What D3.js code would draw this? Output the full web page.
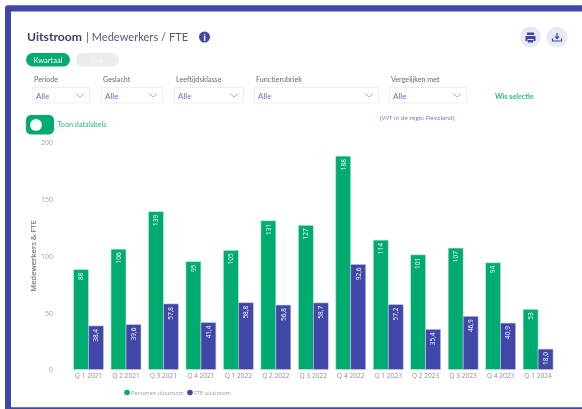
<!DOCTYPE html>
<html>
<head>
<meta charset="utf-8">
<script src="https://cdn.jsdelivr.net/npm/d3@7"></script>
<style>
  html, body { margin: 0; padding: 0; background: #fff; overflow: hidden; }
  #chart { width: 582px; height: 409px; filter: blur(0.5px); }
  text { font-family: "Open Sans", sans-serif; }
</style>
</head>
<body>
<div id="chart"></div>
<script>
const quarters = ['Q 1 2021', 'Q 2 2021', 'Q 3 2021', 'Q 4 2021', 'Q 1 2022', 'Q 2 2022', 'Q 3 2022',
  'Q 4 2022', 'Q 1 2023', 'Q 2 2023', 'Q 3 2023', 'Q 4 2023', 'Q 1 2024'];
const personen = [88, 106, 139, 95, 105, 131, 127, 188, 114, 101, 107, 94, 53];
const fte = [38.4, 39.6, 57.8, 41.4, 58.8, 56.8, 58.7, 92.6, 57.2, 35.4, 46.9, 40.9, 18.0];
const yTicks = [0, 50, 100, 150, 200];
const seriesNames = ['Personen uitstroom', 'FTE uitstroom'];
const filterLabels = ['Periode', 'Geslacht', 'Leeftijdsklasse', 'Functierubriek', 'Vergelijken met'];

const GREEN = '#00ab6f';
const BLUE = '#4047a8';

const svg = d3.select('#chart').append('svg')
  .attr('width', 582).attr('height', 409)
  .attr('role', 'img')
  .attr('aria-label', 'Uitstroom per kwartaal: personen en FTE');

// ─── Card frame ───────────────────────────────────────────────────────────
// thick on top and left, thin at the bottom, cut off on the right
svg.append('path').attr('fill', BLUE)
  .attr('d', 'M582 5.3H8q-3 0-3 3V409H582V407.3H11V11.5H582z');

// ─── Header ───────────────────────────────────────────────────────────────
const title = svg.append('text').attr('x', 27).attr('y', 41)
  .style('font-family', 'Lato, sans-serif').style('font-size', '12.2px').attr('fill', '#3c3f66');
title.append('tspan').style('font-weight', 700).text('Uitstroom');
title.append('tspan').attr('dx', 4).attr('fill', '#55587a').style('font-size', '11.1px').text('| Medewerkers / FTE');

svg.append('circle').attr('cx', 204.5).attr('cy', 37).attr('r', 5.5).attr('fill', BLUE);
svg.append('text').attr('x', 204.5).attr('y', 40.5).attr('text-anchor', 'middle')
  .attr('fill', '#fff').style('font-size', '9px').style('font-weight', 700).text('i');

// print and download buttons
svg.append('circle').attr('cx', 530.5).attr('cy', 37).attr('r', 10.5).attr('fill', '#e9e9f5');
svg.append('circle').attr('cx', 557).attr('cy', 37).attr('r', 10.5).attr('fill', '#e9e9f5');
svg.append('path').attr('fill', BLUE)
  .attr('d', 'M527 32.5h7v2.5h-7z M525.5 36h10v5h-2v-2h-6v2h-2z M527.8 40h5.4v2.5h-5.4z');
svg.append('path').attr('fill', 'none').attr('stroke', BLUE).attr('stroke-width', 1.2)
  .attr('d', 'M552.5 38.5v2.5h9v-2.5 M557 33v5.5 M555 36.5l2 2.2l2-2.2');

// period toggle
svg.append('rect').attr('x', 26).attr('y', 53).attr('width', 44).attr('height', 13.5).attr('rx', 6.7).attr('fill', GREEN);
svg.append('text').attr('x', 48).attr('y', 62.5).attr('text-anchor', 'middle').attr('fill', '#fff')
  .style('font-family', 'Lato, sans-serif').style('font-size', '7.5px').text('Kwartaal');
svg.append('rect').attr('x', 76).attr('y', 53).attr('width', 43).attr('height', 13.5).attr('rx', 6.7).attr('fill', '#ececec');
svg.append('text').attr('x', 97).attr('y', 62.5).attr('text-anchor', 'middle').attr('fill', '#f7f7f7')
  .style('font-family', 'Lato, sans-serif').style('font-size', '7.5px').text('Jaar');

// ─── Filters ──────────────────────────────────────────────────────────────
const filterX = [32, 101, 174, 254, 389];
const filterW = [57, 61, 69, 124, 77];
const labelX = [34, 103, 176, 256, 391];

filterLabels.forEach((label, i) => {
  svg.append('text').attr('x', labelX[i]).attr('y', 82).attr('fill', '#6b6b6b')
    .style('font-family', 'Lato, sans-serif').style('font-size', '7.2px').text(label);
  svg.append('rect').attr('x', filterX[i] + 0.5).attr('y', 87.5).attr('width', filterW[i]).attr('height', 15.5)
    .attr('fill', '#fff').attr('stroke', '#efeff4');
  svg.append('text').attr('x', filterX[i] + 4).attr('y', 99).attr('fill', '#6d72c4')
    .style('font-family', 'Lato, sans-serif').style('font-size', '8px').text('Alle');
  const cx = filterX[i] + filterW[i] - 9;
  svg.append('path').attr('fill', 'none').attr('stroke', '#8f93cf').attr('stroke-width', 0.8)
    .attr('d', `M${cx - 4} 93.5l4 3.5l4-3.5`);
});

svg.append('text').attr('x', 495).attr('y', 99).attr('fill', '#2fb985')
  .style('font-family', 'Lato, sans-serif').style('font-size', '7.2px').style('font-weight', 700).text('Wis selectie');
svg.append('text').attr('x', 380).attr('y', 119.5).attr('fill', '#6d72c4')
  .style('font-size', '6.1px').text('(VVT in de regio Flevoland)');

// data label switch
svg.append('rect').attr('x', 26).attr('y', 115).attr('width', 28).attr('height', 19.5).attr('rx', 5).attr('fill', GREEN);
svg.append('circle').attr('cx', 36).attr('cy', 125).attr('r', 6).attr('fill', '#fff');
svg.append('text').attr('x', 57.5).attr('y', 126.5).attr('fill', '#2fb985')
  .style('font-family', 'Lato, sans-serif').style('font-size', '7.2px').text('Toon datalabels');

// ─── Chart ────────────────────────────────────────────────────────────────
const yScale = d3.scaleLinear().domain([0, 200]).range([369.5, 142.5]);
const xScale = d3.scaleBand().domain(quarters).range([69.8, 556.8]).paddingInner(0.2).paddingOuter(0.1);
const xSub = d3.scaleBand().domain(seriesNames).range([0, xScale.bandwidth()]);

const yAxis = svg.append('g').attr('transform', 'translate(53,0)')
  .call(d3.axisLeft(yScale).tickValues(yTicks).tickSize(0).tickPadding(0));
yAxis.select('.domain').remove();
yAxis.selectAll('text').attr('fill', '#a3a3a3').style('font-size', '7px').style('font-family', '"Open Sans", sans-serif');

const xAxis = svg.append('g').attr('transform', 'translate(0,369.5)')
  .call(d3.axisBottom(xScale).tickSize(0).tickPadding(3.5));
xAxis.select('.domain').remove();
xAxis.selectAll('text').attr('fill', '#8f8f8f').style('font-size', '6.6px').style('font-family', '"Open Sans", sans-serif');

svg.append('text').attr('transform', 'translate(36,256) rotate(-90)').attr('text-anchor', 'middle')
  .attr('fill', '#7a7a7a').style('font-size', '7.5px').style('font-weight', 600).text('Medewerkers & FTE');

const formatFte = v => v.toFixed(1).replace('.', ',');
const series = [
  { name: seriesNames[0], values: personen, color: GREEN, stroke: '#bfe9da', fmt: v => String(v) },
  { name: seriesNames[1], values: fte, color: BLUE, stroke: '#c5c7e8', fmt: formatFte }
];

series.forEach(s => {
  const rows = quarters.map((q, i) => ({ q, v: s.values[i] }));
  svg.append('g').selectAll('rect').data(rows).join('rect')
    .attr('x', d => xScale(d.q) + xSub(s.name))
    .attr('y', d => yScale(d.v))
    .attr('width', xSub.bandwidth())
    .attr('height', d => yScale(0) - yScale(d.v))
    .attr('fill', s.color)
    .attr('stroke', s.stroke)
    .attr('stroke-width', 0.6);

  // labels sit at the top of each bar, rotated
  svg.append('g').selectAll('text').data(rows).join('text')
    .attr('transform', d => `translate(${xScale(d.q) + xSub(s.name) + xSub.bandwidth() / 2 + 2.3},${yScale(d.v) + 3}) rotate(-90)`)
    .attr('text-anchor', 'end')
    .attr('fill', '#fff')
    .style('font-size', '6.5px')
    .text(d => s.fmt(d.v));
});

// ─── Legend ───────────────────────────────────────────────────────────────
const legendX = [127, 190];
series.forEach((s, i) => {
  svg.append('circle').attr('cx', legendX[i]).attr('cy', 392.5).attr('r', 2.8).attr('fill', s.color);
  svg.append('text').attr('x', legendX[i] + 4).attr('y', 394.8).attr('fill', '#9a9a9a').style('font-size', '5.7px').text(s.name);
});
</script>
</body>
</html>
